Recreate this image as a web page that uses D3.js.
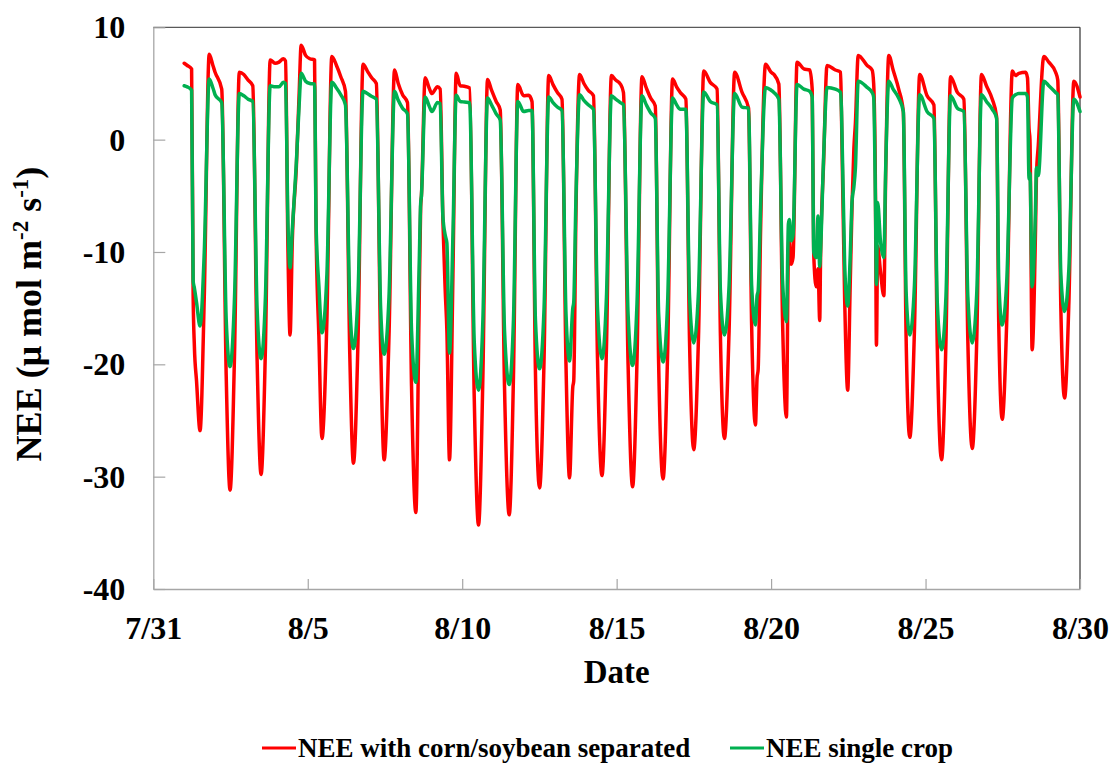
<!DOCTYPE html>
<html><head><meta charset="utf-8">
<script src="https://cdn.jsdelivr.net/npm/d3@7"></script>
<style>
html,body{margin:0;padding:0;background:#fff;}
svg{display:block;}
text{font-family:"Liberation Serif","Times New Roman",serif;font-weight:bold;fill:#000;}
</style></head><body>
<svg id="chart" width="1117" height="764"></svg>
<script>
// ---- data ----
const xTickValues = [0, 5, 10, 15, 20, 25, 30];           // days since 7/31
const xTickLabels = ["7/31", "8/5", "8/10", "8/15", "8/20", "8/25", "8/30"];
const yTickValues = [-40, -30, -20, -10, 0, 10];
const seriesNames = ["NEE with corn/soybean separated", "NEE single crop"];
const seriesColors = ["#FF0000", "#00B050"];

// time in days since 7/31 00:00
const t = [
  1.00, 1.10,
  1.24, 1.29, 1.33, 1.40, 1.513, 1.65, 1.81, 1.93, 2.00,
  2.215, 2.36, 2.485, 2.63, 2.785, 2.93, 3.07,
  3.22, 3.36, 3.489, 3.63, 3.785, 3.94, 4.07, 4.21, 4.28,
  4.36, 4.428, 4.50, 4.63, 4.72, 4.787, 4.93, 5.07, 5.22,
  5.27, 5.36, 5.46, 5.62, 5.779, 5.93, 6.07, 6.22,
  6.36, 6.479, 6.63, 6.79, 6.93, 7.07, 7.22,
  7.36, 7.473, 7.63, 7.81, 7.93, 8.07, 8.228,
  8.36, 8.50, 8.60, 8.655, 8.68, 8.80, 8.93, 9.02, 9.20, 9.287,
  9.375, 9.45, 9.504, 9.589, 9.70, 9.806, 9.935, 10.07, 10.24,
  10.39, 10.528, 10.67, 10.82, 10.95, 11.10, 11.23,
  11.37, 11.522, 11.66, 11.80, 11.99, 12.15, 12.26,
  12.37, 12.504, 12.65, 12.80, 12.94, 13.08, 13.23,
  13.36, 13.475, 13.58, 13.61, 13.68, 13.80, 13.94, 14.08, 14.25,
  14.38, 14.525, 14.67, 14.83, 14.97, 15.12, 15.22,
  15.37, 15.516, 15.66, 15.82, 15.96, 16.10, 16.25,
  16.36, 16.502, 16.65, 16.81, 16.94, 17.06, 17.24,
  17.36, 17.494, 17.65, 17.82, 18.03, 18.25,
  18.36, 18.489, 18.64, 18.82, 19.06, 19.27,
  19.37, 19.493, 19.546, 19.58, 19.66, 19.82, 20.00, 20.09, 20.25,
  20.37, 20.496, 20.56, 20.59, 20.65, 20.71, 20.84, 21.06, 21.25,
  21.33, 21.38, 21.46, 21.52, 21.574, 21.60, 21.70, 21.81, 22.08, 22.25, 22.28,
  22.38, 22.48, 22.56, 22.62, 22.68, 22.73, 22.82, 23.11, 23.27,
  23.32, 23.38, 23.41, 23.45, 23.54, 23.65, 23.71, 23.81, 23.95, 24.13, 24.28,
  24.37, 24.49, 24.64, 24.81, 25.05, 25.27,
  25.38, 25.517, 25.66, 25.81, 26.03, 26.24,
  26.37, 26.51, 26.66, 26.81, 26.97, 27.16, 27.30,
  27.37, 27.481, 27.63, 27.81, 27.91, 28.02, 28.24, 28.30,
  28.35, 28.38, 28.45, 28.56, 28.59, 28.65, 28.83, 28.99, 29.21, 29.28,
  29.38, 29.50, 29.64, 29.80, 30.00
];

// NEE with corn/soybean separated (µmol m-2 s-1)
const redNEE = [
  6.8, 6.6,
  6.3, -13.9, -18.4, -21.5, -25.9, -14.0, 7.6, 6.6, 6.0,
  4.5, -21.0, -31.2, -19.0, 6.0, 5.8, 5.3,
  4.8, -19.5, -29.8, -18.5, 7.1, 6.8, 6.9, 7.2, 7.0,
  -10.0, -17.4, -9.0, -2.5, 4.0, 8.4, 7.5, 7.2, 7.1,
  -8.1, -17.5, -26.6, -16.0, 7.4, 6.6, 5.6, 4.3,
  -19.0, -28.8, -17.5, 6.7, 6.1, 5.5, 5.0,
  -18.5, -28.5, -17.5, 6.2, 5.0, 4.0, 3.3,
  -22.0, -33.2, -16.0, -6.0, -5.0, 5.5, 4.6, 4.1, 4.7, 4.5,
  -7.2, -13.4, -17.0, -28.5, -12.0, 5.9, 4.8, 4.75, 4.6,
  -23.0, -34.3, -21.0, 5.35, 4.4, 3.4, 2.65,
  -22.0, -33.4, -21.0, 4.9, 3.9, 3.95, 3.4,
  -20.5, -31.0, -19.5, 5.7, 4.9, 4.2, 3.6,
  -20.0, -30.1, -22.0, -21.5, -7.0, 5.8, 5.0, 4.4, 3.9,
  -19.5, -29.9, -18.5, 5.7, 5.3, 4.95, 4.2,
  -20.0, -30.9, -19.5, 5.6, 4.6, 3.7, 3.0,
  -20.0, -30.2, -19.0, 5.4, 4.7, 4.2, 3.6,
  -18.0, -27.6, -17.5, 6.1, 5.1, 4.5,
  -17.5, -26.6, -17.0, 6.0, 4.2, 2.8,
  -16.5, -25.4, -21.2, -20.5, -8.0, 6.7, 6.0, 5.8, 4.95,
  -16.0, -24.7, -10.0, -9.0, -11.1, -10.5, 6.9, 6.3, 6.2,
  4.5, -10.2, -13.1, -11.5, -16.1, -10.8, -2.0, 6.6, 6.2, 6.0, 2.0,
  -14.0, -22.3, -13.0, -5.9, -0.8, 1.5, 7.5, 6.6, 6.2,
  5.0, -5.4, -18.3, -9.5, -11.7, -13.9, -3.0, 7.5, 6.2, 4.5, 2.5,
  -17.5, -26.5, -17.0, 5.8, 3.9, 3.1,
  -18.5, -28.5, -18.0, 5.6, 4.2, 3.6,
  -18.0, -27.5, -17.5, 5.8, 4.8, 3.6, 2.05,
  -16.5, -24.9, -16.0, 6.1, 5.7, 5.9, 6.0, 5.5,
  1.0, 0.0, -18.7, -8.0, -3.2, -0.5, 7.4, 6.9, 6.0, 5.3,
  -15.0, -23.0, -14.5, 5.2, 3.8
];

// NEE single crop (µmol m-2 s-1)
const greenNEE = [
  4.8, 4.7,
  4.4, -12.6, -13.2, -14.5, -16.6, -10.0, 5.4, 4.6, 4.0,
  3.3, -16.0, -20.2, -14.0, 4.1, 3.9, 3.6,
  3.4, -15.0, -19.5, -14.0, 4.8, 4.7, 4.7, 5.1, 5.0,
  -7.5, -11.4, -8.0, -2.1, 3.0, 5.9, 5.2, 5.0, 4.95,
  -7.5, -13.0, -17.2, -12.0, 5.1, 4.6, 4.0, 3.1,
  -14.5, -18.6, -13.5, 4.3, 4.1, 3.85, 3.6,
  -15.0, -19.1, -14.0, 4.3, 3.5, 2.8, 2.3,
  -17.0, -21.6, -12.0, -5.7, -5.0, 3.8, 3.0, 2.5, 3.3, 3.2,
  -6.8, -8.5, -9.2, -19.0, -8.5, 3.95, 3.4, 3.35, 3.3,
  -18.0, -22.3, -16.0, 3.7, 3.1, 2.3, 1.75,
  -17.0, -21.8, -16.0, 3.4, 2.5, 2.6, 2.6,
  -16.0, -20.4, -15.0, 3.8, 3.3, 2.9, 2.6,
  -15.5, -19.7, -15.0, -14.5, -5.5, 4.0, 3.5, 3.1, 2.7,
  -15.0, -19.5, -14.0, 3.9, 3.6, 3.3, 3.1,
  -15.5, -20.1, -14.5, 3.9, 3.1, 2.4, 1.9,
  -15.5, -19.8, -14.5, 3.7, 3.1, 2.7, 2.7,
  -14.0, -18.1, -13.5, 4.25, 3.4, 3.1,
  -13.5, -17.4, -13.0, 4.1, 2.9, 2.8,
  -13.0, -16.5, -13.9, -13.5, -6.0, 4.65, 4.4, 4.2, 3.6,
  -12.5, -16.2, -7.5, -7.1, -9.0, -8.5, 4.9, 4.5, 4.3,
  3.8, -10.0, -10.5, -6.8, -11.3, -10.0, -1.5, 4.65, 4.5, 4.2, 2.5,
  -11.0, -14.8, -10.5, -5.5, -4.2, -2.5, 5.2, 4.65, 4.2,
  3.8, -6.0, -12.9, -5.6, -9.0, -10.5, -2.5, 5.2, 4.5, 3.7, 2.5,
  -13.5, -17.4, -13.0, 4.0, 2.5, 1.9,
  -14.5, -18.7, -14.0, 3.9, 2.8, 2.5,
  -14.0, -18.1, -13.5, 4.0, 3.4, 2.7, 1.9,
  -12.5, -16.5, -12.5, 3.7, 4.0, 4.1, 4.1, 3.8,
  -3.5, -3.0, -13.1, -6.0, -2.5, -3.2, 5.2, 4.8, 4.2, 4.0,
  -12.0, -15.3, -11.5, 3.6, 2.5
];

// ---- drawing ----
const svg = d3.select("#chart");
const m = {left: 153.3, right: 1080, top: 27.3, bottom: 589};
const x = d3.scaleLinear().domain([0, 30]).range([m.left, m.right]);
const y = d3.scaleLinear().domain([-40, 10]).range([m.bottom, m.top]);

// top and right frame (dark)
svg.append("line").attr("x1", m.left).attr("x2", m.right).attr("y1", m.top).attr("y2", m.top)
  .attr("stroke", "#595959").attr("stroke-width", 1.3);
svg.append("line").attr("x1", m.right).attr("x2", m.right).attr("y1", m.top).attr("y2", m.bottom)
  .attr("stroke", "#404040").attr("stroke-width", 1.3);

// x axis
const gx = svg.append("g").attr("transform", `translate(0,${m.bottom})`)
  .call(d3.axisBottom(x).tickValues(xTickValues).tickFormat((d, i) => xTickLabels[i])
    .tickSizeInner(-10).tickSizeOuter(0).tickPadding(0))
  .attr("font-family", null).attr("font-size", null);
gx.select(".domain").attr("stroke", "#A6A6A6").attr("stroke-width", 1.3);
gx.selectAll(".tick line").attr("stroke", "#A6A6A6").attr("stroke-width", 1.2);
gx.selectAll(".tick text").attr("y", 50).attr("dy", 0).style("font-size", "32px");

// y axis
const gy = svg.append("g").attr("transform", `translate(${m.left},0)`)
  .call(d3.axisLeft(y).tickValues(yTickValues).tickFormat(d3.format("d"))
    .tickSizeInner(-12).tickSizeOuter(0).tickPadding(28))
  .attr("font-family", null).attr("font-size", null);
gy.select(".domain").attr("stroke", "#A6A6A6").attr("stroke-width", 1.3);
gy.selectAll(".tick line").attr("stroke", "#A6A6A6").attr("stroke-width", 1.2);
gy.selectAll(".tick text").attr("dy", "0.33em").style("font-size", "32px")
  .text(d => d < 0 ? "-" + Math.abs(d) : d);

// series lines
const series = [redNEE, greenNEE];
const line = d3.line().x((d, i) => x(t[i])).y(d => y(d)).curve(d3.curveMonotoneX);
series.forEach((vals, k) => {
  svg.append("path").datum(vals).attr("d", line).attr("fill", "none")
    .attr("stroke", seriesColors[k]).attr("stroke-width", 3.5)
    .attr("stroke-linejoin", "round").attr("stroke-linecap", "round");
});

// axis titles
svg.append("text").attr("x", (m.left + m.right) / 2).attr("y", 683)
  .attr("text-anchor", "middle").style("font-size", "33px").text("Date");

const yt = svg.append("text").attr("transform", "translate(41,314) rotate(-90)")
  .attr("text-anchor", "middle").style("font-size", "36px");
yt.append("tspan").text("NEE (\u03BC mol m");
yt.append("tspan").attr("dy", -13).style("font-size", "23px").text("-2");
yt.append("tspan").attr("dy", 13).text(" s");
yt.append("tspan").attr("dy", -13).style("font-size", "23px").text("-1");
yt.append("tspan").attr("dy", 13).text(")");

// legend
const legendX = [262, 730];
seriesNames.forEach((name, k) => {
  svg.append("line").attr("x1", legendX[k]).attr("x2", legendX[k] + 34)
    .attr("y1", 748).attr("y2", 748).attr("stroke", seriesColors[k]).attr("stroke-width", 3);
  svg.append("text").attr("x", legendX[k] + 36).attr("y", 757)
    .style("font-size", "27px").text(name);
});
</script>
</body></html>
